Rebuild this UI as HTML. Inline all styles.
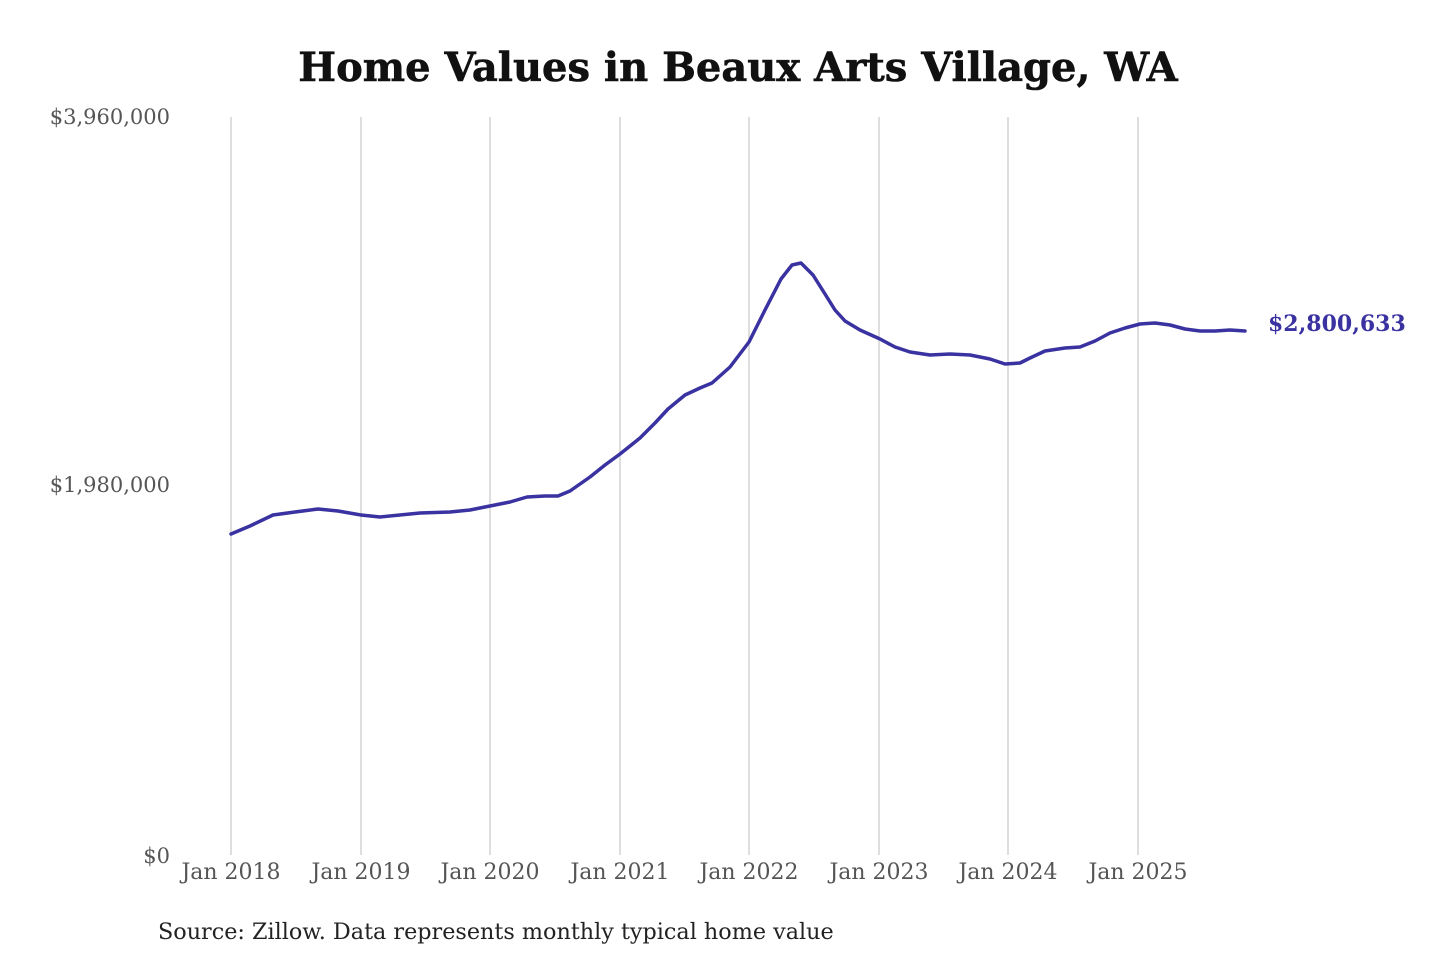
<!DOCTYPE html>
<html><head><meta charset="utf-8"><style>
html,body{margin:0;padding:0;background:#fff;width:1440px;height:960px;overflow:hidden}
svg text{font-family:"DejaVu Serif","Liberation Serif",serif}
</style></head><body>
<svg width="1440" height="960" viewBox="0 0 1440 960" xmlns="http://www.w3.org/2000/svg">
<text x="738" y="81" text-anchor="middle" font-size="40" font-weight="bold" fill="#111" stroke="#111" stroke-width="0.6">Home Values in Beaux Arts Village, WA</text>
<g stroke="#c8c8c8" stroke-width="1.2">
<line x1="231" y1="117" x2="231" y2="855"/><line x1="361" y1="117" x2="361" y2="855"/>
<line x1="490" y1="117" x2="490" y2="855"/><line x1="620" y1="117" x2="620" y2="855"/>
<line x1="749" y1="117" x2="749" y2="855"/><line x1="879" y1="117" x2="879" y2="855"/>
<line x1="1008" y1="117" x2="1008" y2="855"/><line x1="1138" y1="117" x2="1138" y2="855"/>
</g>
<g font-size="21" fill="#555" text-anchor="end">
<text x="170" y="124">$3,960,000</text>
<text x="170" y="492">$1,980,000</text>
<text x="170" y="863">$0</text>
</g>
<g font-size="22" fill="#555" text-anchor="middle">
<text x="231" y="879">Jan 2018</text><text x="361" y="879">Jan 2019</text>
<text x="490" y="879">Jan 2020</text><text x="620" y="879">Jan 2021</text>
<text x="749" y="879">Jan 2022</text><text x="879" y="879">Jan 2023</text>
<text x="1008" y="879">Jan 2024</text><text x="1138" y="879">Jan 2025</text>
</g>
<polyline fill="none" stroke="#3a32a0" stroke-width="3.5" stroke-linejoin="round" stroke-linecap="round"
points="231,534 250,526 273,515 295,512 318,509 338,511 361,515 380,517 420,513 450,512 470,510 490,506 510,502 527,497 545,496 558,496 570,491 590,477 605,465 620,454 640,438 655,423 668,409 685,395 700,388 712,383 730,367 749,342 765,310 781,279 792,265 801,263 813,275 825,294 835,310 845,321 860,330 880,339 895,347 910,352 930,355 950,354 970,355 990,359 1005,364 1020,363 1030,358 1045,351 1065,348 1080,347 1095,341 1110,333 1125,328 1140,324 1155,323 1170,325 1185,329 1200,331 1215,331 1230,330 1245,331"/>
<text x="1268" y="331" font-size="22" font-weight="bold" fill="#3a32a0">$2,800,633</text>
<text x="158" y="939" font-size="22.3" fill="#222">Source: Zillow. Data represents monthly typical home value</text>
</svg>
</body></html>
